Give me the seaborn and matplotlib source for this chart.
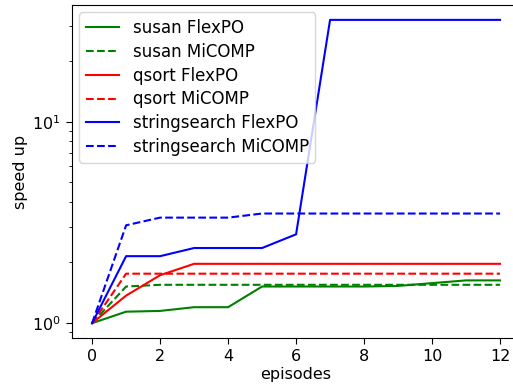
import matplotlib
matplotlib.use("Agg")
import matplotlib.pyplot as plt
import seaborn as sns
import pandas as pd

episodes = list(range(13))

susan_flexpo = [1.0, 1.14, 1.15, 1.20, 1.20, 1.52, 1.52, 1.52, 1.52, 1.53, 1.58, 1.63, 1.63]
susan_micomp = [1.0, 1.52, 1.55, 1.55, 1.55, 1.55, 1.55, 1.55, 1.55, 1.55, 1.55, 1.55, 1.55]
qsort_flexpo = [1.0, 1.37, 1.73, 1.97, 1.97, 1.97, 1.97, 1.97, 1.97, 1.97, 1.97, 1.97, 1.97]
qsort_micomp = [1.0, 1.76, 1.76, 1.76, 1.76, 1.76, 1.76, 1.76, 1.76, 1.76, 1.76, 1.76, 1.76]
stringsearch_flexpo = [1.0, 2.15, 2.15, 2.36, 2.36, 2.36, 2.76, 32.0, 32.0, 32.0, 32.0, 32.0, 32.0]
stringsearch_micomp = [1.0, 3.06, 3.34, 3.34, 3.34, 3.50, 3.50, 3.50, 3.50, 3.50, 3.50, 3.50, 3.50]

series = [
    ("susan FlexPO", susan_flexpo, "green", "-"),
    ("susan MiCOMP", susan_micomp, "green", "--"),
    ("qsort FlexPO", qsort_flexpo, "red", "-"),
    ("qsort MiCOMP", qsort_micomp, "red", "--"),
    ("stringsearch FlexPO", stringsearch_flexpo, "blue", "-"),
    ("stringsearch MiCOMP", stringsearch_micomp, "blue", "--"),
]

plt.rcParams["font.family"] = ["DejaVu Sans"]
plt.rcParams["font.size"] = 12

fig = plt.figure(figsize=(5.13, 3.87), dpi=100)
ax = fig.add_axes([0.1398, 0.1258, 0.8747, 0.862])

for name, values, color, ls in series:
    df = pd.DataFrame({"episodes": episodes, "speed up": values})
    sns.lineplot(data=df, x="episodes", y="speed up", ax=ax,
                 color=color, linestyle=ls, linewidth=1.5, label=name)

ax.set_yscale("log")
ax.set_xticks([0, 2, 4, 6, 8, 10, 12])
ax.tick_params(labelsize=11.5, length=4.5)
ax.tick_params(which="minor", length=2.5)
ax.set_xlabel("episodes", fontsize=11.5, labelpad=2)
ax.set_ylabel("speed up", fontsize=11.5, labelpad=3)
ax.legend(loc="upper left", fontsize=12, labelspacing=0.35,
          borderaxespad=0.45)

fig.savefig("out.png", dpi=100)
